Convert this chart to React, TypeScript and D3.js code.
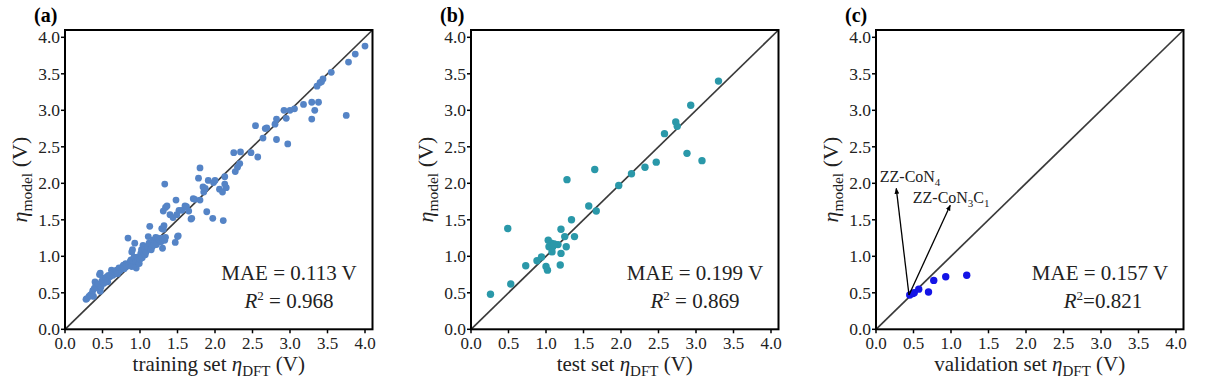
import React from "react";
import * as d3 from "d3";

const trainX = [0.28,0.29,0.32,0.34,0.36,0.38,0.37,0.39,0.40,0.41,0.42,0.44,0.46,0.47,0.47,0.48,0.49,0.51,0.52,0.54,0.55,0.56,0.57,0.58,0.60,0.61,0.62,0.63,0.64,0.66,0.68,0.69,0.70,0.72,0.73,0.75,0.77,0.78,0.79,0.81,0.82,0.84,0.85,0.87,0.88,0.89,0.89,0.90,0.92,0.93,0.94,0.95,0.96,0.97,0.98,0.99,1.00,1.01,1.02,1.03,1.04,1.05,1.06,1.07,1.08,1.10,1.11,1.12,1.13,1.14,1.15,1.16,1.17,1.18,1.20,1.21,1.22,1.24,1.26,1.28,1.29,1.30,1.30,1.31,1.33,1.33,1.34,1.32,
1.31,1.34,1.36,1.40,1.44,1.47,1.48,1.49,1.50,1.51,1.52,1.56,1.60,1.62,1.65,1.68,1.69,1.71,1.73,1.78,1.80,1.80,1.84,1.85,1.87,1.89,1.91,1.97,1.98,2.00,2.06,2.10,2.11,2.13,2.13,2.15,2.25,2.27,2.30,2.33,2.34,2.48,2.54,2.57,2.64,2.67,2.69,2.80,2.82,2.82,2.92,2.95,2.97,3.00,3.06,3.18,3.29,3.29,3.33,3.36,3.38,3.40,3.42,3.44,3.55,3.75,3.78,3.87,4.00];
const trainY = [0.41,0.42,0.45,0.47,0.49,0.45,0.53,0.56,0.65,0.61,0.58,0.62,0.75,0.52,0.77,0.58,0.66,0.70,0.63,0.68,0.70,0.72,0.65,0.74,0.72,0.74,0.81,0.77,0.74,0.78,0.80,0.81,0.76,0.84,0.80,0.82,0.86,0.88,0.83,0.90,0.86,1.25,0.88,0.93,0.95,0.86,1.06,1.09,0.99,1.18,0.92,0.84,0.99,0.93,0.97,0.90,0.96,1.04,1.09,0.98,1.15,1.03,1.09,1.02,1.06,1.13,1.27,1.18,1.41,1.10,1.09,1.13,1.22,1.15,1.20,1.26,1.16,1.25,1.22,1.20,1.38,1.11,1.25,1.37,1.22,1.99,1.26,1.42,
1.62,1.67,1.69,1.57,1.53,1.19,1.77,1.57,1.27,1.28,1.63,1.63,1.69,1.68,1.62,1.51,1.52,1.79,1.78,2.07,2.21,1.77,1.95,1.88,1.93,1.61,2.04,1.52,2.01,2.04,1.92,1.88,1.49,2.09,1.99,1.94,2.42,2.16,2.22,2.27,2.43,2.42,2.79,2.36,2.62,2.75,2.76,2.81,2.60,2.88,3.00,2.89,2.54,3.00,3.02,3.08,3.11,2.88,3.00,3.33,3.11,3.38,3.39,3.43,3.52,2.93,3.66,3.77,3.88];

const testX = [0.26,0.49,0.53,0.73,0.88,0.94,1.00,1.02,1.03,1.04,1.07,1.09,1.08,1.16,1.20,1.20,1.19,1.25,1.27,1.28,1.34,1.38,1.57,1.65,1.67,1.97,2.14,2.32,2.47,2.58,2.73,2.75,2.88,2.93,3.08,3.30,1.11];
const testY = [0.48,1.38,0.62,0.87,0.94,0.99,0.86,0.81,1.22,1.13,1.18,1.13,1.06,1.16,1.37,1.04,0.88,1.27,1.13,2.05,1.50,1.27,1.69,2.19,1.62,1.97,2.13,2.22,2.29,2.68,2.84,2.78,2.41,3.07,2.31,3.40,1.17];

const valX = [0.45,0.49,0.51,0.57,0.70,0.77,0.93,1.21];
const valY = [0.47,0.49,0.50,0.55,0.51,0.67,0.72,0.74];

const tickValues = [0, 0.5, 1.0, 1.5, 2.0, 2.5, 3.0, 3.5, 4.0];
const panelLetters = ["(a)", "(b)", "(c)"];
const xTitles = ["training set ", "test set ", "validation set "];
const maeTexts = ["MAE = 0.113 V", "MAE = 0.199 V", "MAE = 0.157 V"];
const r2Texts = [" = 0.968", " = 0.869", "=0.821"];
const colors = ["#5584c6", "#2a98a9", "#1414e6"];

const annotLabels = ["ZZ-CoN", "ZZ-CoN"];
const annotBase = [0.44, 0.47];
const annotTips = [[0.27, 1.93], [0.99, 1.70]];
const annotTextPos = [[0.05, 2.02], [0.49, 1.73]];

const FONT = "'Liberation Serif', 'Times New Roman', serif";

function Panel({ idx, left, xs, ys }: { idx: number; left: number; xs: number[]; ys: number[] }) {
  const top = 30, bottom = 329.3, width = 307.5;
  const x = d3.scaleLinear().domain([0, 4.1]).range([left, left + width]);
  const y = d3.scaleLinear().domain([0, 4.1]).range([bottom, top]);
  const pts = xs.map((v, i) => [v, ys[i]]);
  const r = idx === 0 ? 3.4 : 3.7;
  const cx = left + width / 2;
  const textCx = left + 224;
  return (
    <g fontFamily={FONT}>
      <text x={left - 31} y={22} fontSize={20} fontWeight="bold">{panelLetters[idx]}</text>
      <line x1={x(0)} y1={y(0)} x2={x(4.1)} y2={y(4.1)} stroke="#3a3a3a" strokeWidth={1.7} />
      {pts.map((p, i) => (
        <circle key={i} cx={x(p[0])} cy={y(p[1])} r={r} fill={colors[idx]} />
      ))}
      <rect x={left} y={top} width={width} height={bottom - top} fill="none" stroke="#000" strokeWidth={2} />
      {tickValues.map((t) => (
        <g key={"x" + t}>
          <line x1={x(t)} x2={x(t)} y1={bottom} y2={bottom + 4} stroke="#000" strokeWidth={1.5} />
          <text x={x(t)} y={349} fontSize={17} textAnchor="middle" fill="#222">{d3.format(".1f")(t)}</text>
          <line x1={left - 4} x2={left} y1={y(t)} y2={y(t)} stroke="#000" strokeWidth={1.5} />
          <text x={left - 5} y={y(t)} dy="0.35em" fontSize={17.5} textAnchor="end" fill="#222">{d3.format(".1f")(t)}</text>
        </g>
      ))}
      <text x={cx} y={371} fontSize={21} textAnchor="middle" fill="#222">
        {xTitles[idx]}
        <tspan fontStyle="italic">η</tspan>
        <tspan fontSize={15} dy={5}>DFT</tspan>
        <tspan dy={-5}> (V)</tspan>
      </text>
      <text transform={`translate(${left - 38},${(top + bottom) / 2}) rotate(-90)`} fontSize={22} textAnchor="middle" fill="#222">
        <tspan fontStyle="italic">η</tspan>
        <tspan fontSize={15.5} dy={5}>model</tspan>
        <tspan dy={-5}> (V)</tspan>
      </text>
      <text x={textCx} y={280} fontSize={21} textAnchor="middle" fill="#222">{maeTexts[idx]}</text>
      <text x={textCx + (idx === 2 ? 3 : 0)} y={308} fontSize={21} textAnchor="middle" fill="#222">
        <tspan fontStyle="italic">R</tspan>
        <tspan fontSize={13} dy={-8}>2</tspan>
        <tspan dy={8}>{r2Texts[idx]}</tspan>
      </text>
      {idx === 2 && (
        <g>
          {annotTips.map((tp, i) => (
            <line key={"a" + i} x1={x(annotBase[0])} y1={y(annotBase[1])} x2={x(tp[0])} y2={y(tp[1])}
              stroke="#000" strokeWidth={1.3} markerEnd="url(#arrowHead)" />
          ))}
          <text x={x(annotTextPos[0][0])} y={y(annotTextPos[0][1])} fontSize={16} fill="#222">
            {annotLabels[0]}<tspan fontSize={11} dy={4}>4</tspan>
          </text>
          <text x={x(annotTextPos[1][0])} y={y(annotTextPos[1][1])} fontSize={16} fill="#222">
            {annotLabels[1]}<tspan fontSize={11} dy={4}>3</tspan><tspan dy={-4}>C</tspan><tspan fontSize={11} dy={4}>1</tspan>
          </text>
        </g>
      )}
    </g>
  );
}

export default function App() {
  return (
    <svg width={1206} height={385} style={{ position: "absolute", left: 0, top: 0, background: "#fff" }}>
      <defs>
        <marker id="arrowHead" viewBox="0 0 10 10" refX={9} refY={5} markerWidth={6} markerHeight={6} orient="auto" markerUnits="userSpaceOnUse">
          <path d="M0,1 L10,5 L0,9 z" fill="#000" />
        </marker>
      </defs>
      <rect width={1206} height={385} fill="#fff" />
      <Panel idx={0} left={65} xs={trainX} ys={trainY} />
      <Panel idx={1} left={471} xs={testX} ys={testY} />
      <Panel idx={2} left={876} xs={valX} ys={valY} />
    </svg>
  );
}
